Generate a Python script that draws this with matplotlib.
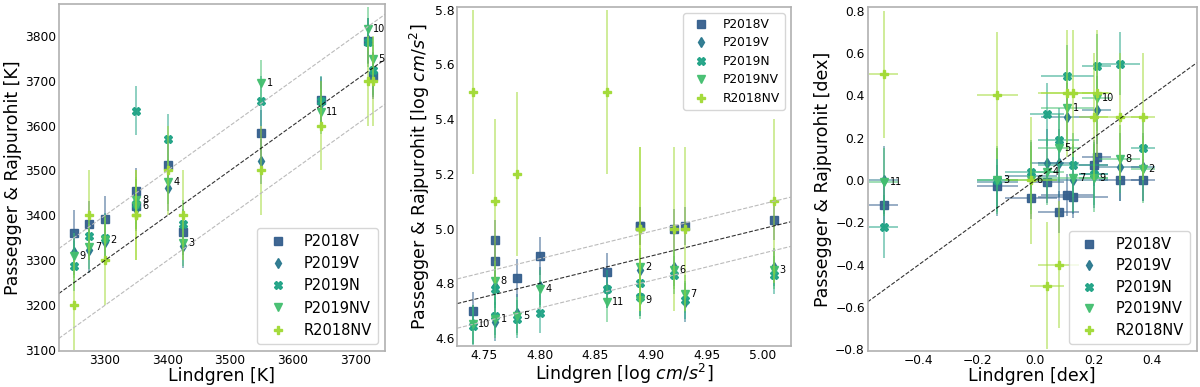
import numpy as np
import matplotlib.pyplot as plt

nan = np.nan

# star numbers 1..11
star_ids = ['1', '2', '3', '4', '5', '6', '7', '8', '9', '10', '11']
catalogs = ['P2018V', 'P2019V', 'P2019N', 'P2019NV', 'R2018NV']
markers = ['s', 'd', 'X', 'v', 'P']
colors = ['#355f8d', '#2a788e', '#20a386', '#44bf70', '#a2da37']

# --- Teff [K]
teff_lin = [3550, 3300, 3425, 3400, 3728, 3350, 3275, 3350, 3250, 3720, 3645]
teff_p18v = [3583, 3392, 3363, 3512, 3711, 3420, 3380, 3455, 3360, 3788, 3657]
teff_p19v = [3520, 3340, 3332, 3460, 3713, 3415, 3322, 3430, 3318, 3790, 3650]
teff_p19n = [3655, 3350, 3380, 3570, 3724, 3425, 3355, 3633, 3287, 3785, 3655]
teff_p19nv = [3695, 3345, 3338, 3475, 3748, 3420, 3330, 3435, 3310, 3815, 3631]
teff_r18nv = [3500, 3300, 3400, 3500, 3700, 3400, 3400, 3400, 3200, 3700, 3600]
teff_err = [51, 50, 55, 50, 100]

# --- log g
logg_lin = [4.76, 4.89, 5.01, 4.80, 4.78, 4.92, 4.93, 4.76, 4.89, 4.74, 4.86]
logg_p18v = [4.88, 5.01, 5.03, 4.90, 4.82, 5.00, 5.01, 4.96, 5.01, 4.70, 4.84]
logg_p19v = [4.66, 4.85, 4.86, 4.79, 4.69, 4.86, 4.73, 4.79, 4.75, 4.65, 4.78]
logg_p19n = [4.68, 4.80, 4.83, 4.69, 4.67, 4.83, 4.74, 4.78, 4.75, 4.645, 4.78]
logg_p19nv = [4.67, 4.86, 4.85, 4.78, 4.68, 4.85, 4.76, 4.81, 4.74, 4.65, 4.73]
logg_r18nv = [nan, 5.00, 5.10, nan, 5.20, 5.00, 5.00, 5.10, 5.00, 5.50, 5.50]
logg_err = [0.07, 0.07, 0.07, 0.07, 0.3]

# --- [Fe/H]
feh_lin = [0.11, 0.37, -0.13, 0.04, 0.08, -0.015, 0.13, 0.29, 0.20, 0.21, -0.52]
feh_lin_err = [0.09, 0.04, 0.07, 0.06, 0.07, 0.09, 0.12, 0.07, 0.05, 0.05, 0.05]
feh_p18v = [-0.07, 0.00, -0.03, -0.01, -0.15, -0.085, -0.08, 0.00, 0.07, 0.11, -0.12]
feh_p19v = [0.30, 0.06, -0.01, 0.08, 0.08, 0.02, 0.00, 0.06, 0.03, 0.33, 0.00]
feh_p19n = [0.49, 0.15, 0.00, 0.31, 0.19, 0.04, 0.07, 0.55, 0.03, 0.54, -0.22]
feh_p19nv = [0.34, 0.05, 0.00, 0.04, 0.15, 0.00, 0.01, 0.10, 0.01, 0.39, -0.01]
feh_r18nv = [0.41, 0.30, 0.40, -0.50, -0.40, 0.00, 0.41, 0.30, 0.30, 0.41, 0.50]
feh_err = [0.10, 0.16, 0.15, 0.16, 0.3]

fig = plt.figure(figsize=(12, 3.87), dpi=100)
ax1 = fig.add_axes([0.049, 0.093, 0.272, 0.897])
ax2 = fig.add_axes([0.381, 0.106, 0.278, 0.876])
ax3 = fig.add_axes([0.723, 0.093, 0.2745, 0.889])


def draw_panel(ax, x, ys, yerrs, xerr=None):
    for y, e, m, c, name in zip(ys, yerrs, markers, colors, catalogs):
        ax.errorbar(x, y, yerr=e, xerr=xerr, fmt='none', ecolor=c, alpha=0.55,
                    elinewidth=1.3, capsize=0)
        ax.plot(x, y, ls='none', marker=m, color=c, ms=5.5, alpha=0.95, label=name)
    # star numbers next to the P2019NV points
    for xi, yi, s in zip(x, ys[3], star_ids):
        ax.annotate(s, (xi, yi), xytext=(4, 0), textcoords='offset points',
                    va='center', ha='left', fontsize=7)


draw_panel(ax1, teff_lin, [teff_p18v, teff_p19v, teff_p19n, teff_p19nv, teff_r18nv], teff_err)
draw_panel(ax2, logg_lin, [logg_p18v, logg_p19v, logg_p19n, logg_p19nv, logg_r18nv], logg_err)
draw_panel(ax3, feh_lin, [feh_p18v, feh_p19v, feh_p19n, feh_p19nv, feh_r18nv], feh_err,
           xerr=feh_lin_err)

# 1:1 lines and offsets
lims = [(3226, 3748, 3098, 3871, 100), (4.726, 5.025, 4.571, 5.81, 0.09),
        (-0.576, 0.555, -0.808, 0.818, None)]
for ax, (x0, x1, y0, y1, off) in zip([ax1, ax2, ax3], lims):
    xx = np.array([x0, x1])
    ax.plot(xx, xx, ls='--', color='k', lw=0.8, alpha=0.8)
    if off is not None:
        ax.plot(xx, xx + off, ls='--', color='#bbbbbb', lw=0.8)
        ax.plot(xx, xx - off, ls='--', color='#bbbbbb', lw=0.8)
    ax.set_xlim(x0, x1)
    ax.set_ylim(y0, y1)
    for sp in ax.spines.values():
        sp.set_color('#b0b0b0')
        sp.set_linewidth(1.2)
    ax.tick_params(labelsize=8.8, length=0, pad=2)

ax1.legend(loc='lower right', fontsize=10.5, labelspacing=0.5)
ax2.legend(loc='upper right', fontsize=8.8, labelspacing=0.45)
ax3.legend(loc='lower right', fontsize=10.5, labelspacing=0.45)

ax1.set_xticks([3300, 3400, 3500, 3600, 3700])
ax1.set_yticks([3100, 3200, 3300, 3400, 3500, 3600, 3700, 3800])
ax2.set_xticks([4.75, 4.80, 4.85, 4.90, 4.95, 5.00])
ax2.set_yticks([4.6, 4.8, 5.0, 5.2, 5.4, 5.6, 5.8])
ax3.set_xticks([-0.4, -0.2, 0.0, 0.2, 0.4])
ax3.set_yticks([-0.8, -0.6, -0.4, -0.2, 0.0, 0.2, 0.4, 0.6, 0.8])

ax1.set_xlabel('Lindgren [K]', fontsize=12.5, labelpad=0)
ax1.set_ylabel('Passegger & Rajpurohit [K]', fontsize=12.5, labelpad=2)
ax2.set_xlabel('Lindgren [log $cm/s^2$]', fontsize=12.5, labelpad=0)
ax2.set_ylabel('Passegger & Rajpurohit [log $cm/s^2$]', fontsize=12.5, labelpad=2)
ax3.set_xlabel('Lindgren [dex]', fontsize=12.5, labelpad=0)
ax3.set_ylabel('Passegger & Rajpurohit [dex]', fontsize=12.5, labelpad=2)

fig.savefig('out.png', dpi=100)
